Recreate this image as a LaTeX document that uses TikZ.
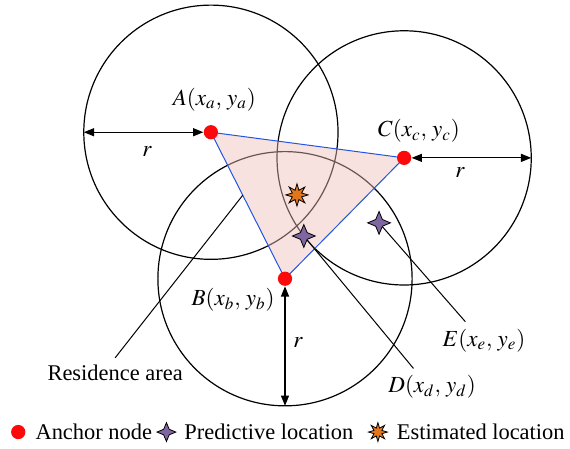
\documentclass[tikz,border=0pt]{standalone}
\usepackage{mathptmx}
\usepackage{fontspec}
\setmainfont{Liberation Serif}
\usepackage{xcolor}
\usepackage{tikz}
\usetikzlibrary{arrows.meta,calc,shapes.geometric}
\definecolor{anchorred}{RGB}{250,10,10}
\definecolor{predpurple}{RGB}{128,102,160}
\definecolor{estorange}{RGB}{226,118,28}
\definecolor{areapink}{RGB}{238,190,186}
\definecolor{edgeblue}{RGB}{35,85,225}

\begin{document}
\begin{tikzpicture}[>={Triangle[length=1.8mm,width=1.4mm]},
 anc/.style={circle,fill=anchorred,inner sep=0pt,minimum size=2.5mm},
 pred/.style={star,star points=4,star point ratio=2.4,draw=black,fill=predpurple,inner sep=0pt,minimum size=4mm,line width=0.4pt},
 est/.style={star,star points=8,star point ratio=2.2,draw=black,fill=estorange,inner sep=0pt,minimum size=3.9mm,line width=0.4pt},
 rangeline/.style={line width=0.6pt},
 lead/.style={line width=0.5pt},
 lbl/.style={font=\fontsize{11.5}{13}\selectfont},
 txt/.style={font=\fontsize{11.2}{13}\selectfont}]
\useasboundingbox (0,0) rectangle (10,7.86);
\coordinate (pA) at (3.70,5.54);
\coordinate (pB) at (5.00,2.97);
\coordinate (pC) at (7.09,5.09);
% coverage circles
\foreach \P in {pA,pB,pC}{\draw[rangeline] (\P) circle (2.23);}
% residence area
\fill[areapink,fill opacity=0.45] (pA)--(pB)--(pC)--cycle;
\draw[edgeblue,line width=0.5pt] (pA)--(pB)--(pC)--cycle;
\node[anc] (A) at (pA) {};
\node[anc] (B) at (pB) {};
\node[anc] (C) at (pC) {};
\node[lbl] (Al) at (3.76,6.11) {$A(x_a,\,y_a)$};
\node[lbl] (Bl) at (4.09,2.60) {$B(x_b,\,y_b)$};
\node[lbl] (Cl) at (7.35,5.56) {$C(x_c,\,y_c)$};
% radius arrows
\coordinate (eA) at ($(pA)+(-2.23,0)$);
\coordinate (eB) at ($(pB)+(0,-2.23)$);
\coordinate (eC) at ($(pC)+(2.23,0)$);
\draw[<->,rangeline] (eA)--(A); \draw[<->,rangeline] (B)--(eB); \draw[<->,rangeline] (C)--(eC);
\node[lbl] (rA) at (2.58,5.20) {$r$};
\node[lbl] (rB) at (5.23,1.86) {$r$};
\node[lbl] (rC) at (8.07,4.84) {$r$};
% locations
\node[est] (X) at (5.21,4.44) {};
\node[pred] (D) at (5.33,3.72) {};
\node[pred] (E) at (6.65,3.95) {};
\node[lbl] (Dl) at (7.58,1.07) {$D(x_d,\,y_d)$};
\node[lbl] (El) at (8.49,1.89) {$E(x_e,\,y_e)$};
\draw[lead] (D)--(Dl.135);
\draw[lead] (E)--(El.135);
\coordinate (resTip) at ($(pA)!0.43!(pB)$);
\node[txt] (res) at (2.02,1.32) {Residence area};
\draw[lead] (res.north)--(resTip);
% legend
\node[anc] (kA) at (0.32,0.28) {};
\node[txt,anchor=west] (kAt) at (0.50,0.28) {Anchor node};
\node[pred,minimum size=3.3mm] (kD) at (2.92,0.28) {};
\node[txt,anchor=west] (kDt) at (3.11,0.28) {Predictive location};
\node[est,minimum size=3.3mm] (kX) at (6.63,0.28) {};
\node[txt,anchor=west] (kXt) at (6.84,0.28) {Estimated location};
\end{tikzpicture}
\end{document}
